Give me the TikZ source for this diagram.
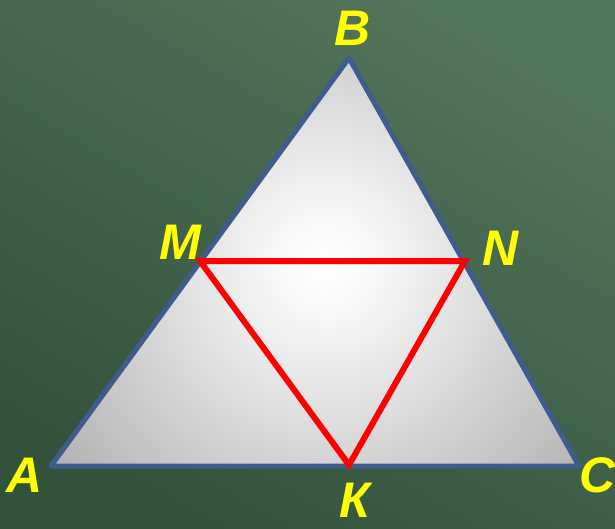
\documentclass[tikz,border=0pt]{standalone}
\usepackage{fontspec}
\setmainfont{Liberation Sans}
\pgfdeclareradialshading{trishade}{\pgfpoint{0bp}{0bp}}{color(0bp)=(white); color(3bp)=(white!97!black); color(26bp)=(white!60!black); color(50bp)=(white!35!black)}
\definecolor{bgdark}{RGB}{50,82,60}
\definecolor{bglight}{RGB}{82,116,90}
\definecolor{edgeblue}{RGB}{62,92,140}
\definecolor{labyellow}{RGB}{255,255,0}
\tikzset{
  lab/.style={text=labyellow, font=\fontsize{50}{50}\selectfont\bfseries\itshape, inner sep=0pt, anchor=base},
  outer/.style={draw=edgeblue, line width=5pt, line join=round},
  redline/.style={draw=red, line width=6pt, line join=miter}
}
\begin{document}
\begin{tikzpicture}[x=1pt,y=-1pt]
\useasboundingbox (0,0) rectangle (615,529);
\shade[top color=bglight, bottom color=bgdark, shading angle=-30] (0,0) rectangle (615,529);
\coordinate (A) at (51,466);
\coordinate (B) at (349,58);
\coordinate (C) at (579,466);
\coordinate (M) at (200,261);
\coordinate (N) at (465,261);
\coordinate (K) at (349,465);
\begin{scope}
\clip (A) -- (B) -- (C) -- cycle;
\shade[shading=trishade] (325,265) circle (420);
\end{scope}
\draw[outer] (A) -- (B) -- (C) -- cycle;
\draw[redline] (M) -- (N) -- (K) -- cycle;
\node[lab] (lA) at (25,492) {A};
\node[lab] (lB) at (353,46) {B};
\node[lab] (lC) at (598,492) {C};
\node[lab] (lM) at (180,259) {M};
\node[lab] (lN) at (501,265) {N};
\node[lab] (lK) at (355,517) {К};
\end{tikzpicture}
\end{document}
